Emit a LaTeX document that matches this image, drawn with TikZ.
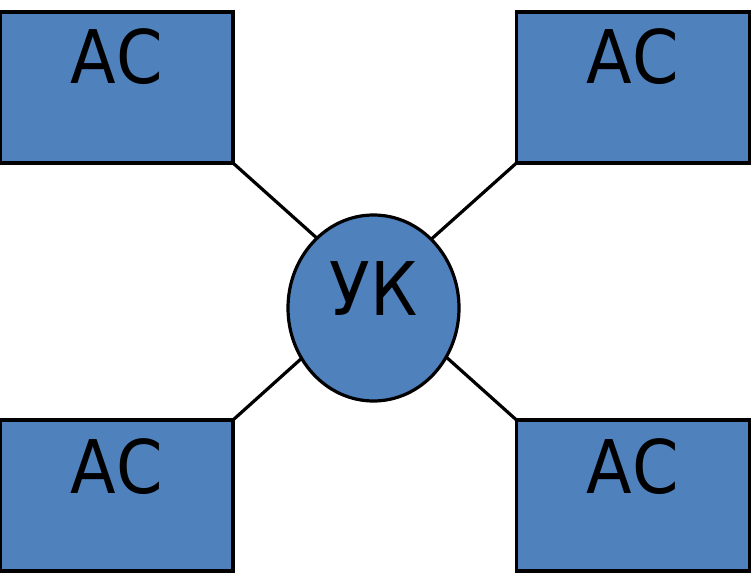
\documentclass[tikz,border=0pt]{standalone}
\usepackage{fontspec}
\setmainfont{DejaVu Sans}[FakeStretch=0.9]
\usetikzlibrary{shapes.geometric}
\definecolor{boxblue}{RGB}{79,129,189}
\tikzset{
  stationbox/.style={draw=black, fill=boxblue, line width=3.2pt, rectangle,
    minimum width=233pt, minimum height=151pt, inner sep=0pt, outer sep=0pt},
  hubnode/.style={draw=black, fill=boxblue, line width=3.2pt, ellipse,
    minimum width=171pt, minimum height=186pt, inner sep=0pt, outer sep=0pt},
  bigtext/.style={font=\fontsize{74}{80}\selectfont, anchor=base, inner sep=0pt},
  link/.style={draw=black, line width=3.2pt}
}
\begin{document}
\begin{tikzpicture}[x=1pt, y=-1pt]
  \useasboundingbox (0,0) rectangle (751,572);
  % four stations
  \node[stationbox] (tl) at (116.5,87.5) {};
  \node[stationbox] (tr) at (633,87.5) {};
  \node[stationbox] (bl) at (116.5,495.5) {};
  \node[stationbox] (br) at (633,495.5) {};
  % central hub
  \node[hubnode] (uk) at (373.5,308) {};
  % links from station corners to the hub border
  \draw[link] (tl.south east) -- (uk.129.4);
  \draw[link] (tr.south west) -- (uk.50.4);
  \draw[link] (bl.north east) -- (uk.215.1);
  \draw[link] (br.north west) -- (uk.326.4);
  % labels
  \node[bigtext] (tltext) at (117,84) {АС};
  \node[bigtext] (trtext) at (633,84) {АС};
  \node[bigtext] (bltext) at (117,493) {АС};
  \node[bigtext] (brtext) at (633,493) {АС};
  \node[bigtext] (uktext) at (373.5,315) {УК};
\end{tikzpicture}
\end{document}
